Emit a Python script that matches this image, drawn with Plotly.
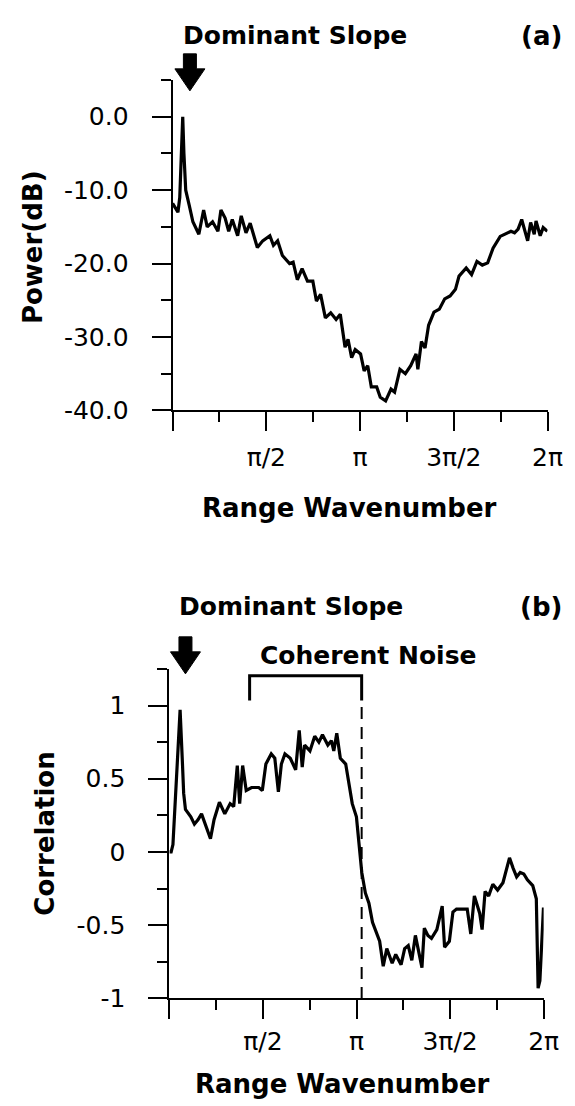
import math
import plotly.graph_objects as go

W, H = 575, 1106
PI = math.pi

# ---------------- data (a) power spectrum ----------------
a_x = [0.00, 0.05, 0.09, 0.12, 0.145, 0.17, 0.19, 0.22, 0.28, 0.34, 0.44, 0.52, 0.58, 0.67,
       0.76, 0.81, 0.88, 0.94, 1.00, 1.09, 1.15, 1.23, 1.30, 1.42, 1.51, 1.63, 1.69, 1.76,
       1.84, 1.96, 2.02, 2.09, 2.17, 2.26, 2.35, 2.41, 2.48, 2.56, 2.65, 2.74, 2.81, 2.89,
       2.94, 3.00, 3.06, 3.15, 3.21, 3.27, 3.33, 3.42, 3.48, 3.57, 3.66, 3.72, 3.81, 3.90,
       3.99, 4.08, 4.11, 4.17, 4.23, 4.29, 4.38, 4.47, 4.56, 4.65, 4.74, 4.80, 4.92, 5.01,
       5.10, 5.19, 5.28, 5.37, 5.49, 5.58, 5.67, 5.73, 5.79, 5.85, 5.91, 5.95, 6.00, 6.06,
       6.09, 6.16, 6.21, 6.28]
a_db = [-11.8, -12.5, -13.0, -11.0, -5.0, 0.0, -5.0, -10.0, -12.1, -14.3, -16.0, -12.7, -15.0, -14.3,
        -15.6, -12.7, -13.8, -15.6, -14.0, -16.2, -13.5, -15.8, -14.5, -17.8, -16.9, -16.2, -17.5, -16.9,
        -18.9, -20.0, -19.8, -22.2, -20.7, -22.4, -22.4, -25.1, -24.2, -27.4, -26.7, -27.6, -26.9, -31.4,
        -30.3, -32.8, -31.7, -32.3, -34.6, -33.9, -36.8, -36.8, -38.2, -38.7, -37.1, -37.5, -34.4, -35.0,
        -33.9, -32.3, -34.4, -30.6, -31.5, -28.4, -26.6, -26.2, -24.8, -24.4, -23.5, -21.7, -20.6, -21.5,
        -19.7, -20.2, -19.9, -17.9, -16.3, -16.0, -15.6, -15.8, -15.3, -14.0, -15.8, -16.9, -14.4, -16.0,
        -14.2, -16.2, -15.1, -15.6]

# ---------------- data (b) correlation ----------------
b_x = [0.00, 0.03, 0.06, 0.12, 0.18, 0.22, 0.24, 0.27, 0.36, 0.42, 0.48, 0.54, 0.60, 0.69, 0.75,
       0.84, 0.93, 1.02, 1.08, 1.14, 1.18, 1.23, 1.29, 1.38, 1.50, 1.56, 1.62, 1.71, 1.77, 1.83,
       1.88, 1.94, 2.03, 2.12, 2.18, 2.23, 2.27, 2.36, 2.44, 2.51, 2.57, 2.66, 2.72, 2.76, 2.81,
       2.87, 2.96, 3.02, 3.07, 3.14, 3.17, 3.20, 3.23, 3.29, 3.35, 3.41, 3.47, 3.53, 3.59, 3.65,
       3.74, 3.80, 3.89, 3.95, 4.01, 4.07, 4.13, 4.19, 4.24, 4.28, 4.34, 4.40, 4.49, 4.58, 4.62,
       4.70, 4.76, 4.82, 4.91, 5.00, 5.06, 5.12, 5.21, 5.25, 5.30, 5.36, 5.43, 5.51, 5.60, 5.65,
       5.71, 5.77, 5.83, 5.89, 5.95, 6.01, 6.10, 6.16, 6.19, 6.22, 6.25, 6.28]
b_corr = [0.00, 0.00, 0.05, 0.50, 0.97, 0.60, 0.40, 0.29, 0.24, 0.19, 0.22, 0.26, 0.19, 0.09, 0.22,
          0.34, 0.26, 0.33, 0.31, 0.59, 0.33, 0.59, 0.42, 0.44, 0.44, 0.42, 0.60, 0.67, 0.64, 0.41,
          0.60, 0.67, 0.64, 0.56, 0.83, 0.58, 0.73, 0.69, 0.79, 0.75, 0.80, 0.73, 0.76, 0.69, 0.81,
          0.64, 0.60, 0.46, 0.33, 0.24, 0.10, -0.01, -0.14, -0.28, -0.35, -0.48, -0.55, -0.61, -0.78, -0.66,
          -0.76, -0.70, -0.77, -0.66, -0.64, -0.74, -0.57, -0.68, -0.79, -0.52, -0.57, -0.59, -0.53, -0.37, -0.65,
          -0.61, -0.41, -0.39, -0.39, -0.39, -0.56, -0.30, -0.42, -0.53, -0.27, -0.30, -0.22, -0.26, -0.21, -0.14,
          -0.04, -0.11, -0.17, -0.14, -0.15, -0.19, -0.23, -0.32, -0.93, -0.88, -0.61, -0.38]

# ---------------- ticks ----------------
x_tickvals = [0, PI / 2, PI, 3 * PI / 2, 2 * PI]
x_ticktext = ["", "π/2", "π", "3π/2", "2π"]
x_minor = [PI / 4, 3 * PI / 4, 5 * PI / 4, 7 * PI / 4]
a_tickvals = [0, -10, -20, -30, -40]
a_ticktext = ["0.0", "-10.0", "-20.0", "-30.0", "-40.0"]
a_minor = [5, -5, -15, -25, -35]
b_tickvals = [1, 0.5, 0, -0.5, -1]
b_ticktext = ["1", "0.5", "0", "-0.5", "-1"]
b_minor = [1.25, 0.75, 0.25, -0.25, -0.75]

# annotation anchors (data units)
arrow_a_x = 0.29
arrow_b_x = 0.27
noise_x0, noise_x1 = 1.347, 3.228
noise_y_top, noise_y_leg = 1.204, 1.035


def px(xp):
    return xp / W


def py(yp):
    return 1 - yp / H


FONT = "DejaVu Sans"
tick_font = dict(family=FONT, size=25, color="black")

fig = go.Figure()
fig.add_trace(go.Scatter(x=a_x, y=a_db, mode="lines", xaxis="x", yaxis="y",
                         line=dict(color="black", width=3.2), showlegend=False))
fig.add_trace(go.Scatter(x=b_x, y=b_corr, mode="lines", xaxis="x2", yaxis="y2",
                         line=dict(color="black", width=3.2), showlegend=False))

axis_common = dict(showline=True, linecolor="black", linewidth=2, ticks="outside",
                   ticklen=19, tickwidth=2, tickcolor="black", showgrid=False,
                   zeroline=False, tickfont=tick_font, fixedrange=True)

fig.update_layout(
    width=W, height=H, margin=dict(l=0, r=0, t=0, b=0),
    paper_bgcolor="white", plot_bgcolor="white", showlegend=False,
    xaxis=dict(domain=[px(169), px(554)], range=[0, 2 * PI], anchor="y",
               tickmode="array", tickvals=x_tickvals, ticktext=x_ticktext,
               minor=dict(tickvals=x_minor, ticklen=10, tickwidth=2, tickcolor="black", ticks="outside"),
               ticklabelstandoff=5, **axis_common),
    yaxis=dict(domain=[py(408), py(73)], range=[-40, 5], anchor="x",
               tickmode="array", tickvals=a_tickvals, ticktext=a_ticktext,
               minor=dict(tickvals=a_minor, ticklen=10, tickwidth=2, tickcolor="black", ticks="outside"),
               ticklabelstandoff=18, **axis_common),
    xaxis2=dict(domain=[px(165.7), px(550)], range=[0, 2 * PI], anchor="y2",
                tickmode="array", tickvals=x_tickvals, ticktext=x_ticktext,
                minor=dict(tickvals=x_minor, ticklen=10, tickwidth=2, tickcolor="black", ticks="outside"),
                ticklabelstandoff=1, **axis_common),
    yaxis2=dict(domain=[py(1004), py(670)], range=[-1, 1.25], anchor="x2",
                tickmode="array", tickvals=b_tickvals, ticktext=b_ticktext,
                minor=dict(tickvals=b_minor, ticklen=10, tickwidth=2, tickcolor="black", ticks="outside"),
                ticklabelstandoff=18, **axis_common),
)

bold = dict(family=FONT, size=26, color="black")
bold25 = dict(family=FONT, size=25, color="black")


def label(text, xp, yp, font, angle=0):
    fig.add_annotation(text="<b>" + text + "</b>", x=px(xp), y=py(yp), xref="paper", yref="paper",
                       xanchor="center", yanchor="middle", showarrow=False, font=font, textangle=angle)


label("Dominant Slope", 295, 28, bold25)
label("(a)", 548, 28, bold)
label("Power(dB)", 25, 242, bold, -90)
label("Range Wavenumber", 351, 507, bold)
label("Dominant Slope", 291, 607, bold25)
label("(b)", 547, 607, bold)
label("Coherent Noise", 370, 656, bold25)
label("Correlation", 38, 837, bold, -90)
label("Range Wavenumber", 343, 1091, bold)

# big down arrows (pixel-sized paths anchored at data x)
arrow_path = "M0,0 L-15,22 L-6.5,22 L-6.5,37 L6.5,37 L6.5,22 L15,22 Z"
for xr, xa, tip in [("x", arrow_a_x, 84), ("x2", arrow_b_x, 675)]:
    fig.add_shape(type="path", xref=xr, xsizemode="pixel", xanchor=xa,
                  yref="paper", ysizemode="pixel", yanchor=py(tip),
                  path=arrow_path, fillcolor="black", line=dict(color="black", width=1))

# coherent noise bracket and dashed line
fig.add_shape(type="path", xref="x2", yref="y2",
              path=f"M{noise_x0},{noise_y_leg} L{noise_x0},{noise_y_top} L{noise_x1},{noise_y_top} L{noise_x1},{noise_y_leg}",
              line=dict(color="black", width=3))
fig.add_shape(type="line", xref="x2", yref="y2", x0=noise_x1, x1=noise_x1, y0=0.99, y1=-1,
              line=dict(color="black", width=2, dash="12px,8px"))

fig.write_html("out.html")
